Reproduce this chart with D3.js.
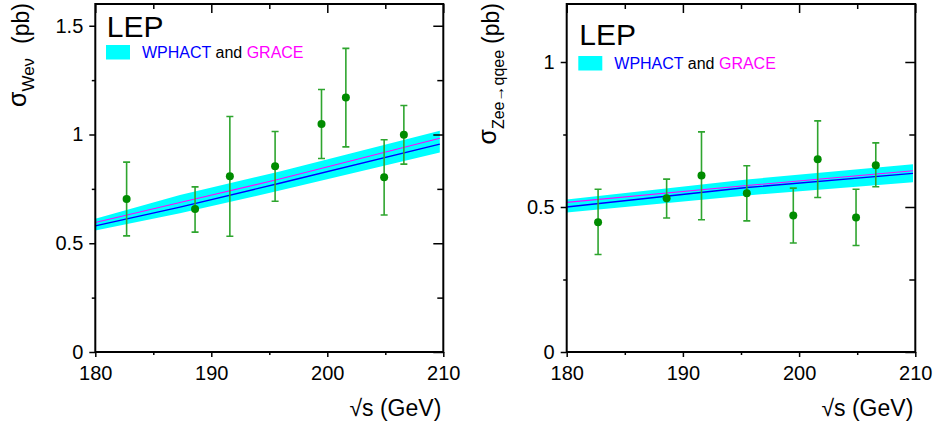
<!DOCTYPE html>
<html>
<head>
<meta charset="utf-8">
<script src="https://cdn.jsdelivr.net/npm/d3@7"></script>
<style>
  body { margin:0; background:#fff; }
  svg { font-family:"Liberation Sans", Arial, Helvetica, sans-serif; }
  .tick line { stroke:#000; stroke-width:1.5; }
  .tick text { font-size:20px; fill:#000; font-family:"Liberation Sans", Arial, Helvetica, sans-serif; }
</style>
</head>
<body>
<svg id="board" width="938" height="428"></svg>
<script>
// LEP energies (GeV)
var energies = [182.7, 188.6, 191.6, 195.5, 199.5, 201.6, 204.9, 206.6];

// sigma(Wenu) in pb
var wenu   = [0.703, 0.657, 0.808, 0.854, 1.048, 1.170, 0.804, 0.999];
var wenuHi = [0.873, 0.759, 1.083, 1.014, 1.207, 1.396, 0.976, 1.133];
var wenuLo = [0.534, 0.551, 0.532, 0.693, 0.890, 0.943, 0.630, 0.864];

// sigma(Zee -> qqee) in pb
var zee   = [0.447, 0.530, 0.609, 0.547, 0.471, 0.665, 0.464, 0.644];
var zeeHi = [0.561, 0.596, 0.759, 0.642, 0.565, 0.797, 0.561, 0.721];
var zeeLo = [0.336, 0.462, 0.456, 0.452, 0.376, 0.533, 0.367, 0.570];

// predictions, Wenu
var predE_w   = [180, 187.3, 195.9, 209.7];
var wphact_w  = [0.580, 0.666, 0.776, 0.956];
var grace_w   = [0.595, 0.687, 0.795, 0.983];
var bandLo_w  = [0.559, 0.638, 0.742, 0.917];
var bandHi_w  = [0.613, 0.722, 0.830, 1.017];

// predictions, Zee
var predE_z   = [180, 195.5, 209.8];
var wphact_z  = [0.500, 0.567, 0.616];
var grace_z   = [0.516, 0.574, 0.625];
var bandLo_z  = [0.481, 0.540, 0.585];
var bandHi_z  = [0.526, 0.595, 0.647];

// axis ticks
var xTicks = [180, 190, 200, 210];
var xMinor = [185, 195, 205];
var yTicks_w = [0, 0.5, 1, 1.5];
var yMinor_w = [0.25, 0.75, 1.25];
var yTicks_z = [0, 0.5, 1];
var yMinor_z = [0.25, 0.75];

var board = d3.select("#board");

function drawPanel(p)
{
  var w = p.x1 - p.x0, h = p.y1 - p.y0;
  var g = board.append("g").attr("transform", "translate(" + p.x0 + "," + p.y0 + ")");

  var x = d3.scaleLinear().domain([180, 210]).range([0, w]);
  var y = d3.scaleLinear().domain([0, p.ymax]).range([h, 0]);

  g.append("clipPath").attr("id", "clip" + p.id)
    .append("rect").attr("width", w).attr("height", h);

  var plot = g.append("g").attr("clip-path", "url(#clip" + p.id + ")");

  // theory band
  var band = d3.area()
    .x(function(d, i){ return x(p.predE[i]); })
    .y0(function(d, i){ return y(p.bandLo[i]); })
    .y1(function(d, i){ return y(p.bandHi[i]); });
  plot.append("path").datum(p.predE)
    .attr("d", band)
    .attr("fill", "#00ffff");

  var lineOf = function(vals){
    return d3.line()
      .x(function(d, i){ return x(p.predE[i]); })
      .y(function(d, i){ return y(vals[i]); })(p.predE);
  };
  plot.append("path").attr("d", lineOf(p.wphact))
    .attr("fill", "none").attr("stroke", "#0000ff").attr("stroke-width", 1.4);
  plot.append("path").attr("d", lineOf(p.grace))
    .attr("fill", "none").attr("stroke", "#ff00ff").attr("stroke-width", 1.1);

  // data points with error bars
  var pts = plot.selectAll("g.pt").data(energies).enter().append("g").attr("class", "pt");
  pts.append("line")
    .attr("x1", function(d){ return x(d); }).attr("x2", function(d){ return x(d); })
    .attr("y1", function(d, i){ return y(p.lo[i]); })
    .attr("y2", function(d, i){ return y(p.hi[i]); })
    .attr("stroke", "#2ea52e").attr("stroke-width", 1.6);
  [p.lo, p.hi].forEach(function(arr){
    pts.append("line")
      .attr("x1", function(d){ return x(d) - 3.5; }).attr("x2", function(d){ return x(d) + 3.5; })
      .attr("y1", function(d, i){ return y(arr[i]); })
      .attr("y2", function(d, i){ return y(arr[i]); })
      .attr("stroke", "#2ea52e").attr("stroke-width", 1.6);
  });
  pts.append("circle")
    .attr("cx", function(d){ return x(d); })
    .attr("cy", function(d, i){ return y(p.val[i]); })
    .attr("r", 4)
    .attr("fill", "#008c00");

  // axes: labelled left/bottom, ticks outward; right/top inward
  var ax = g.append("g").attr("transform", "translate(0," + h + ")")
    .call(d3.axisBottom(x).tickValues(xTicks).tickSize(5).tickPadding(9).tickFormat(String));
  var axm = g.append("g").attr("transform", "translate(0," + h + ")")
    .call(d3.axisBottom(x).tickValues(xMinor).tickSize(3).tickFormat(""));
  var ay = g.append("g")
    .call(d3.axisLeft(y).tickValues(p.yTicks).tickSize(6).tickPadding(6).tickFormat(String));
  var aym = g.append("g")
    .call(d3.axisLeft(y).tickValues(p.yMinor).tickSize(3.5).tickFormat(""));
  var at = g.append("g")
    .call(d3.axisTop(x).tickValues(xTicks).tickSize(-9).tickFormat(""));
  var atm = g.append("g")
    .call(d3.axisTop(x).tickValues(xMinor).tickSize(-5).tickFormat(""));
  var ar = g.append("g").attr("transform", "translate(" + w + ",0)")
    .call(d3.axisRight(y).tickValues(p.yTicks).tickSize(-10).tickFormat(""));
  var arm = g.append("g").attr("transform", "translate(" + w + ",0)")
    .call(d3.axisRight(y).tickValues(p.yMinor).tickSize(-6).tickFormat(""));
  [ax, axm, ay, aym, at, atm, ar, arm].forEach(function(a){ a.select(".domain").remove(); });

  g.append("rect").attr("width", w).attr("height", h)
    .attr("fill", "none").attr("stroke", "#000").attr("stroke-width", 2);

  // LEP + legend
  g.append("text").attr("x", p.lepX).attr("y", p.lepY)
    .attr("font-size", 30).text("LEP");
  g.append("rect").attr("x", p.legX).attr("y", p.legY)
    .attr("width", 24).attr("height", 14.5).attr("fill", "#00ffff");
  var lt = g.append("text").attr("x", p.legX + 36).attr("y", p.legY + 12.7).attr("font-size", 16);
  lt.append("tspan").attr("fill", "#0000ff").text("WPHACT");
  lt.append("tspan").attr("fill", "#000").text(" and ");
  lt.append("tspan").attr("fill", "#ff00ff").text("GRACE");

  // axis titles
  g.append("text").attr("x", w - 2).attr("y", 416 - p.y0)
    .attr("text-anchor", "end").attr("font-size", 23).text("\u221As (GeV)");

  var yt = board.append("text")
    .attr("transform", "translate(" + p.labX + ",3) rotate(-90)")
    .attr("text-anchor", "end");
  yt.append("tspan").attr("font-size", 25).text("\u03C3");
  yt.append("tspan").attr("font-size", p.subSize).attr("dy", 8).text(p.sub);
  yt.append("tspan").attr("font-size", 23).attr("dy", -5.5).attr("dx", p.gap).text("(pb)");
}

drawPanel({
  id: "w", x0: 95.3, x1: 443.3, y0: 4, y1: 352, ymax: 1.6,
  val: wenu, hi: wenuHi, lo: wenuLo,
  predE: predE_w, wphact: wphact_w, grace: grace_w, bandLo: bandLo_w, bandHi: bandHi_w,
  yTicks: yTicks_w, yMinor: yMinor_w,
  lepX: 11.5, lepY: 33.3, legX: 10.7, legY: 41,
  labX: 26, sub: "We\u03BD", subSize: 17, gap: 14
});

drawPanel({
  id: "z", x0: 566.7, x1: 915.3, y0: 4, y1: 352, ymax: 1.2,
  val: zee, hi: zeeHi, lo: zeeLo,
  predE: predE_z, wphact: wphact_z, grace: grace_z, bandLo: bandLo_z, bandHi: bandHi_z,
  yTicks: yTicks_z, yMinor: yMinor_z,
  lepX: 12.6, lepY: 41, legX: 11.6, legY: 52,
  labX: 496, sub: "Zee\u2192qqee", subSize: 16, gap: 6
});
</script>
</body>
</html>
